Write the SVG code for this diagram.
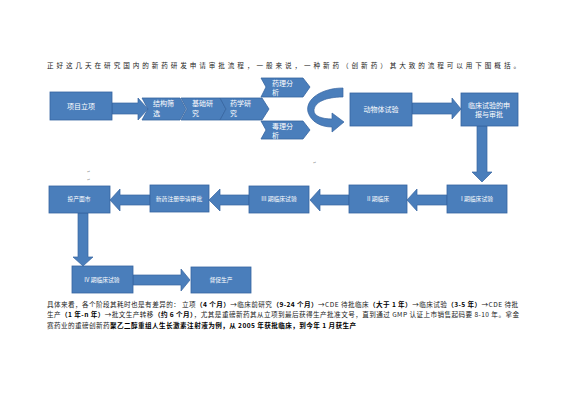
<svg xmlns="http://www.w3.org/2000/svg" width="565" height="400" viewBox="0 0 565 400">
<style>
.bx{fill:#4a7ebb;stroke:#3664a0;stroke-width:0.8}
.ar{fill:#4a7ebb;stroke:#3664a0;stroke-width:0.7}
.t{font-family:"Noto Sans CJK SC","Noto Sans",sans-serif;fill:#ffffff}
.t7{font-size:7px}
.t6{font-size:5.8px}
.p{font-family:"Noto Sans CJK SC","Liberation Serif",sans-serif;font-size:6.6px;fill:#222}
.b{font-weight:bold;fill:#000}
.pm{font-family:"DejaVu Sans",sans-serif;font-size:4px;fill:#999}
</style>
<rect width="565" height="400" fill="#ffffff"/>
<text class="p" x="47" y="68" font-size="6.3" fill="#333" textLength="473" lengthAdjust="spacing">正好这几天在研究国内的新药研发申请审批流程，一般来说，一种新药（创新药）其大致的流程可以用下图概括。</text>
<g id="connectors">
<polygon class="ar" points="112,103 138,103 138,98 148,109 138,120 138,114 112,114"/>
<polygon class="ar" points="412,103 452,103 452,98 461,109 452,119 452,114 412,114"/>
<polygon class="ar" points="477,126 487,126 487,172 492,172 482,182 472,172 477,172"/>
<polygon class="ar" points="447,195 417,195 417,189 407,200 417,211 417,205 447,205"/>
<polygon class="ar" points="349,195 320,195 320,189 310,200 320,211 320,205 349,205"/>
<polygon class="ar" points="249,195 220,195 220,189 209,200 220,211 220,205 249,205"/>
<polygon class="ar" points="150,195 120,195 120,189 110,200 120,211 120,205 150,205"/>
<polygon class="ar" points="78,213 88,213 88,257 93,257 83,266 73,257 78,257"/>
<polygon class="ar" points="133,275 181,275 181,269 190,280 181,291 181,285 133,285"/>
<path class="ar" d="M343,88 C322,88 305,99 308,112 C311,122 321,127 332,127 L332,132 L344,122 L332,113 L332,119 C322,119 314,116 314,111 C314,102 326,97 343,97 Z"/>
</g>
<g id="n1"><rect class="bx" x="50" y="92" width="62" height="28"/><text class="t t7" x="81" y="109" text-anchor="middle">项目立项</text></g>
<g id="n2"><polygon class="bx" points="142,98 180,98 186,109 180,120 142,120 148,109"/><text class="t t7" x="153" y="106">结构筛</text><text class="t t7" x="153" y="116">选</text></g>
<g id="n3"><polygon class="bx" points="181,98 220,98 226,109 220,120 181,120 187,109"/><text class="t t7" x="192" y="106">基础研</text><text class="t t7" x="192" y="116">究</text></g>
<g id="n4"><polygon class="bx" points="220,98 262,98 269,109 262,120 220,120 226,109"/><text class="t t7" x="230" y="106">药学研</text><text class="t t7" x="230" y="116">究</text></g>
<g id="n5"><polygon class="bx" points="261,78 303,78 310,87 303,97 261,97 266,87"/><text class="t t7" x="272" y="86">药理分</text><text class="t t7" x="272" y="95">析</text></g>
<g id="n6"><polygon class="bx" points="261,121 303,121 310,130 303,139 261,139 266,130"/><text class="t t7" x="272" y="129">毒理分</text><text class="t t7" x="272" y="138">析</text></g>
<g id="n7"><rect class="bx" x="350" y="93" width="62" height="33"/><text class="t t7" x="381" y="112" text-anchor="middle">动物体试验</text></g>
<g id="n8"><rect class="bx" x="461" y="93" width="57" height="33"/><text class="t t7" x="489" y="108" text-anchor="middle">临床试验的申</text><text class="t t7" x="489" y="117" text-anchor="middle">报与审批</text></g>
<g id="n9"><rect class="bx" x="447" y="185" width="60" height="28"/><text class="t t6" x="477" y="201" text-anchor="middle">I 期临床试验</text></g>
<g id="n10"><rect class="bx" x="349" y="185" width="58" height="28"/><text class="t t6" x="378" y="201" text-anchor="middle">II 期临床</text></g>
<g id="n11"><rect class="bx" x="249" y="186" width="60" height="27"/><text class="t t6" x="279" y="201" text-anchor="middle">III 期临床试验</text></g>
<g id="n12"><rect class="bx" x="150" y="185" width="59" height="27"/><text class="t t6" x="179" y="201" text-anchor="middle">新药注册申请审批</text></g>
<g id="n13"><rect class="bx" x="49" y="186" width="61" height="27"/><text class="t t6" x="79" y="201" text-anchor="middle">投产面市</text></g>
<g id="n14"><rect class="bx" x="72" y="266" width="61" height="27"/><text class="t t6" x="102" y="282" text-anchor="middle">IV 期临床试验</text></g>
<g id="n15"><rect class="bx" x="191" y="267" width="60" height="26"/><text class="t t6" x="221" y="282" text-anchor="middle">督促生产</text></g>
<text class="pm" x="87" y="173">↵</text>
<text class="pm" x="87" y="181">↵</text>
<text class="pm" x="313" y="164">↵</text>
<text class="p" x="47" y="307" textLength="471" lengthAdjust="spacing">具体来看，各个阶段其耗时也是有差异的： 立项<tspan class="b">（4 个月）</tspan>→临床前研究<tspan class="b">（9-24 个月）</tspan>→CDE 待批临床<tspan class="b">（大于 1 年）</tspan>→临床试验<tspan class="b">（3-5 年）</tspan>→CDE 待批</text>
<text class="p" x="47" y="317" textLength="472" lengthAdjust="spacing">生产<tspan class="b">（1 年-n 年）</tspan>→批文生产转移<tspan class="b">（约 6 个月）</tspan>，尤其是重磅新药其从立项到最后获得生产批准文号，直到通过 GMP 认证上市销售起码要 8-10 年。拿金</text>
<text class="p" x="47" y="328" textLength="309" lengthAdjust="spacing">赛药业的重磅创新药<tspan class="b">聚乙二醇重组人生长激素注射液为例，从 2005 年获批临床，到今年 1 月获生产</tspan></text>
</svg>
